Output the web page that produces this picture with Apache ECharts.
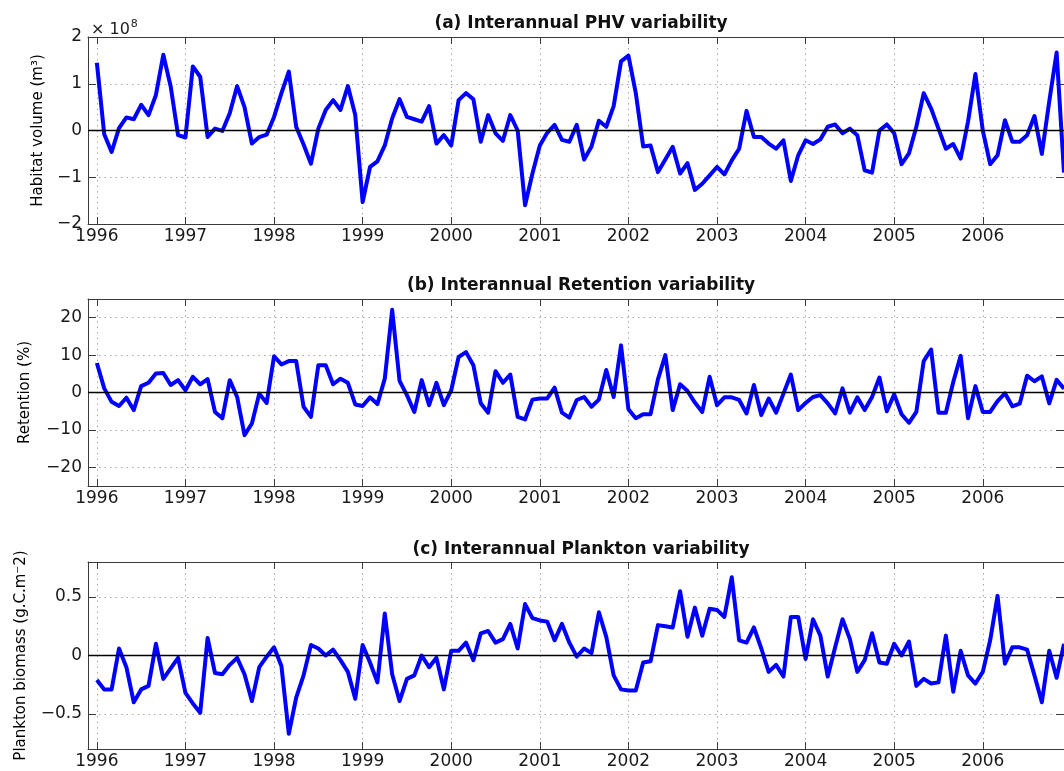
<!DOCTYPE html>
<html>
<head>
<meta charset="utf-8">
<script src="https://cdn.jsdelivr.net/npm/echarts@6/dist/echarts.min.js"></script>
<style>html,body{margin:0;padding:0;background:#fff}#c{width:1064px;height:771px}</style>
</head>
<body>
<div id="c"></div>
<script>
// Monthly samples Jan 1996 .. Dec 2006 (132 months)
const startYear = 1996;
const yearTicks = [1996,1997,1998,1999,2000,2001,2002,2003,2004,2005,2006];

// (a) PHV anomaly, units of 1e8 m^3
const phv = [
 1.45,-0.08,-0.46,0.05,0.28,0.24,0.55,0.33,0.76,1.62,0.94,-0.10,
 -0.15,1.37,1.15,-0.14,0.04,-0.01,0.37,0.95,0.50,-0.28,-0.14,-0.09,
 0.29,0.80,1.26,0.08,-0.30,-0.71,0.04,0.44,0.65,0.44,0.95,0.33,
 -1.53,-0.78,-0.66,-0.32,0.26,0.67,0.29,0.24,0.19,0.52,-0.28,-0.10,
 -0.32,0.65,0.80,0.67,-0.24,0.33,-0.06,-0.22,0.33,0.00,-1.60,-0.92,
 -0.32,-0.05,0.12,-0.20,-0.24,0.12,-0.62,-0.34,0.21,0.08,0.52,1.48,
 1.60,0.80,-0.34,-0.32,-0.89,-0.62,-0.35,-0.92,-0.70,-1.27,-1.14,-0.96,
 -0.78,-0.94,-0.64,-0.39,0.42,-0.14,-0.14,-0.28,-0.39,-0.21,-1.08,-0.53,
 -0.21,-0.29,-0.19,0.08,0.13,-0.06,0.04,-0.10,-0.85,-0.90,0.00,0.13,
 -0.06,-0.72,-0.49,0.08,0.80,0.47,0.04,-0.39,-0.29,-0.60,0.19,1.21,
 0.00,-0.72,-0.53,0.22,-0.24,-0.24,-0.10,0.31,-0.50,0.62,1.67,-0.90
];
// (b) Retention anomaly, %
const retention = [
 7.9,1.1,-2.5,-3.6,-1.4,-4.7,1.7,2.6,5.1,5.2,2.0,3.3,
 0.6,4.2,2.2,3.6,-5.2,-6.9,3.3,-1.2,-11.4,-8.3,-0.3,-2.8,
 9.7,7.5,8.4,8.4,-3.8,-6.5,7.3,7.3,2.2,3.7,2.6,-3.2,
 -3.6,-1.3,-3.1,3.7,22.1,3.1,-0.7,-5.2,3.3,-3.4,2.6,-3.4,
 0.6,9.5,10.8,7.3,-2.9,-5.4,5.7,2.6,4.8,-6.5,-7.2,-1.9,
 -1.6,-1.6,1.3,-5.4,-6.7,-2.0,-1.2,-3.8,-1.9,6.0,-1.2,12.6,
 -4.5,-6.9,-5.8,-5.8,3.5,10.0,-4.7,2.2,0.4,-2.7,-5.2,4.2,
 -3.4,-1.3,-1.3,-2.0,-5.6,2.0,-6.0,-1.6,-5.4,-0.3,4.8,-4.7,
 -2.8,-1.2,-0.7,-2.9,-5.6,1.1,-5.4,-1.3,-4.7,-1.2,4.0,-5.0,
 -0.5,-5.8,-8.1,-5.2,8.4,11.5,-5.4,-5.4,2.8,9.8,-6.9,1.7,
 -5.2,-5.2,-2.3,-0.2,-3.7,-3.0,4.5,3.0,4.3,-2.9,3.4,1.0
];
// (c) Plankton biomass anomaly, g.C.m^-2
const plankton = [
 -0.21,-0.29,-0.29,0.06,-0.10,-0.40,-0.29,-0.26,0.10,-0.20,-0.11,-0.02,
 -0.32,-0.41,-0.49,0.15,-0.15,-0.16,-0.08,-0.02,-0.16,-0.39,-0.10,-0.01,
 0.07,-0.09,-0.67,-0.36,-0.17,0.09,0.06,0.00,0.05,-0.04,-0.14,-0.37,
 0.09,-0.06,-0.23,0.36,-0.16,-0.39,-0.20,-0.17,0.00,-0.10,-0.02,-0.29,
 0.04,0.04,0.11,-0.04,0.19,0.21,0.11,0.14,0.27,0.06,0.44,0.32,
 0.30,0.29,0.13,0.27,0.11,-0.01,0.06,0.02,0.37,0.16,-0.17,-0.29,
 -0.30,-0.30,-0.06,-0.05,0.26,0.25,0.24,0.55,0.16,0.41,0.17,0.40,
 0.39,0.33,0.67,0.13,0.11,0.24,0.06,-0.14,-0.08,-0.18,0.33,0.33,
 -0.03,0.31,0.17,-0.18,0.07,0.31,0.14,-0.14,-0.04,0.19,-0.06,-0.07,
 0.10,0.00,0.12,-0.26,-0.20,-0.24,-0.23,0.17,-0.31,0.04,-0.17,-0.24,
 -0.14,0.13,0.51,-0.07,0.07,0.07,0.05,-0.17,-0.40,0.04,-0.19,0.10
];

const titles = ['(a) Interannual PHV variability','(b) Interannual Retention variability','(c) Interannual Plankton variability'];
const yNames = ['Habitat volume (m³)','Retention (%)','Plankton biomass (g.C.m⁻2)'];
const yTicksA = [-2,-1,0,1,2];
const yTicksB = [-20,-10,0,10,20];
const yTicksC = [-0.5,0,0.5];

const seriesValues = [phv, retention, plankton];
const yRanges = [[-2,2],[-25,25],[-0.8,0.8]];
const yTicks = [yTicksA, yTicksB, yTicksC];
const tops = [37, 299, 562];
const nameGaps = [41, 55, 59];
const titleY = [10, 272, 536];

const FONT = 'DejaVu Sans';
const AX = '#3a3a3a';
const xMin = 1995.9, xMax = startYear + 131/12;
const dotted = {show:true, lineStyle:{color:'#a8a8a8', type:[1.5,4], width:1}};
const fmtNum = v => String(v).replace('-', '\u2212');

const grids = [], xAxes = [], yAxes = [], series = [], titleList = [];
for (let k = 0; k < 3; k++) {
  grids.push({left: 88, right: -5, top: tops[k], height: 187, containLabel: false});
  xAxes.push({
    gridIndex: k, type: 'value', min: xMin, max: xMax, position: 'bottom',
    axisLine: {show: true, onZero: false, lineStyle: {color: AX, width: 1}},
    axisTick: {show: true, inside: true, length: 7, customValues: yearTicks, lineStyle: {color: AX}},
    axisLabel: {show: true, customValues: yearTicks, fontFamily: FONT, fontSize: 17, color: '#1a1a1a', margin: 4,
                formatter: v => String(Math.round(v))},
    splitLine: dotted
  });
  xAxes.push({
    gridIndex: k, type: 'value', min: xMin, max: xMax, position: 'top',
    axisLine: {show: true, onZero: false, lineStyle: {color: AX, width: 1}},
    axisTick: {show: true, inside: true, length: 7, customValues: yearTicks, lineStyle: {color: AX}},
    axisLabel: {show: false}, splitLine: {show: false}
  });
  yAxes.push({
    gridIndex: k, type: 'value', min: yRanges[k][0], max: yRanges[k][1], position: 'left',
    name: yNames[k], nameLocation: 'middle', nameRotate: 90, nameGap: nameGaps[k],
    nameTextStyle: {fontFamily: FONT, fontSize: 15, color: '#000'},
    axisLine: {show: true, onZero: false, lineStyle: {color: AX, width: 1}},
    axisTick: {show: true, inside: true, length: 8, customValues: yTicks[k], lineStyle: {color: AX}},
    axisLabel: {show: true, customValues: yTicks[k], fontFamily: FONT, fontSize: 17, color: '#1a1a1a', margin: 6,
                formatter: fmtNum},
    splitLine: dotted
  });
  yAxes.push({
    gridIndex: k, type: 'value', min: yRanges[k][0], max: yRanges[k][1], position: 'right',
    axisLine: {show: true, onZero: false, lineStyle: {color: AX, width: 1}},
    axisTick: {show: true, inside: true, length: 8, customValues: yTicks[k], lineStyle: {color: AX}},
    axisLabel: {show: false}, splitLine: {show: false}
  });
  const vals = seriesValues[k];
  series.push({
    type: 'line', xAxisIndex: 2*k, yAxisIndex: 2*k,
    data: vals.map((v, i) => [startYear + i/12, v]),
    showSymbol: false, symbol: 'none', clip: true,
    lineStyle: {color: '#0000ff', width: 4, join: 'round'},
    markLine: {silent: true, symbol: ['none','none'], label: {show: false},
      lineStyle: {color: '#000', type: 'solid', width: 1.3}, data: [{yAxis: 0}], animation: false},
    animation: false, z: 3
  });
  titleList.push({text: titles[k], left: 576, top: titleY[k], textAlign: 'center',
    textStyle: {fontFamily: FONT, fontSize: 17, fontWeight: 'bold', color: '#111'}});
}
titleList.push({text: '{a|× 10}{b|8}', left: 86, top: 14,
  textStyle: {fontWeight: 'normal', rich: {
    a: {fontFamily: FONT, fontSize: 16, fontWeight: 'normal', color: '#222', verticalAlign: 'bottom'},
    b: {fontFamily: FONT, fontSize: 11, fontWeight: 'normal', color: '#222', verticalAlign: 'top', padding: [0,0,8,1]}}}});

const chart = echarts.init(document.getElementById('c'), null, {renderer: 'canvas'});
chart.setOption({
  backgroundColor: '#fff', animation: false,
  title: titleList, grid: grids, xAxis: xAxes, yAxis: yAxes, series: series
});
</script>
</body>
</html>
